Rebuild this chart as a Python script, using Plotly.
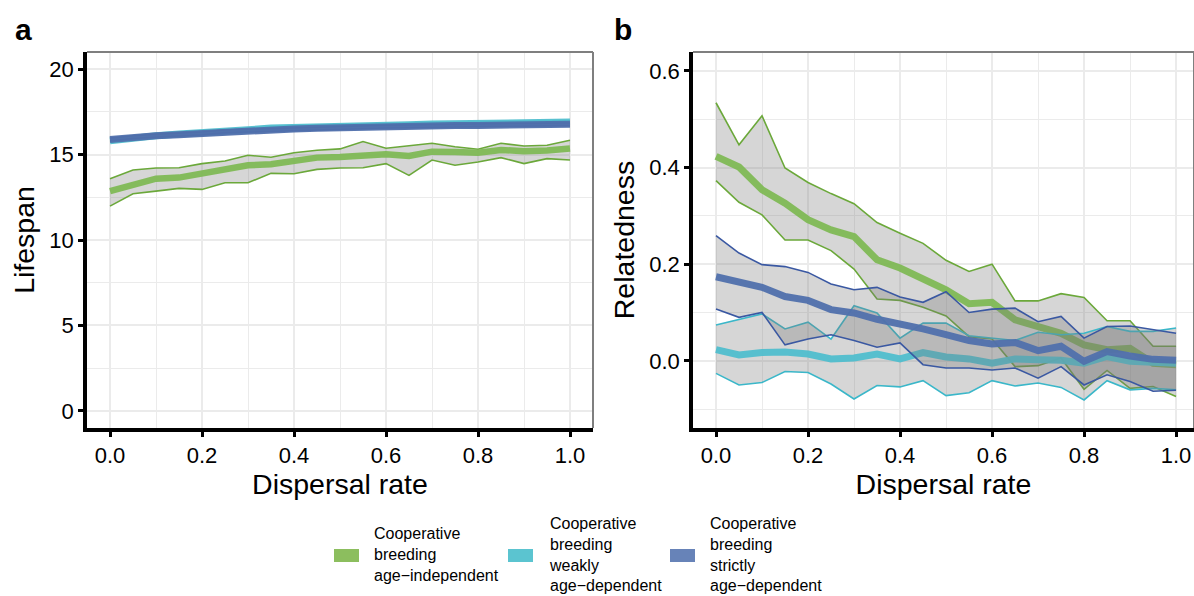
import plotly.graph_objects as go

# ---------------- data ----------------
dispersal = [0.0, 0.05, 0.1, 0.15, 0.2, 0.25, 0.3, 0.35, 0.4, 0.45, 0.5,
             0.55, 0.6, 0.65, 0.7, 0.75, 0.8, 0.85, 0.9, 0.95, 1.0]

groups = ["Cooperative<br>breeding<br>age\u2212independent",
          "Cooperative<br>breeding<br>weakly<br>age\u2212dependent",
          "Cooperative<br>breeding<br>strictly<br>age\u2212dependent"]

# Panel a: lifespan
life_indep_lo = [11.98, 12.71, 12.86, 13.02, 12.96, 13.35, 13.35, 13.90, 13.88, 14.13, 14.21,
                 14.23, 14.47, 13.78, 14.68, 14.37, 14.56, 14.82, 14.47, 14.76, 14.68]
life_indep_mean = [12.86, 13.26, 13.59, 13.65, 13.90, 14.17, 14.37, 14.43, 14.58, 14.82, 14.86,
                   14.96, 15.01, 14.92, 15.17, 15.15, 15.11, 15.27, 15.19, 15.23, 15.35]
life_indep_hi = [13.59, 14.10, 14.21, 14.23, 14.47, 14.62, 14.96, 14.84, 15.11, 15.25, 15.33,
                 15.76, 15.37, 15.50, 15.66, 15.46, 15.31, 15.66, 15.50, 15.54, 15.84]

life_weak_lo = [15.72, 15.92, 16.02, 16.12, 16.17, 16.27, 16.37, 16.47, 16.52, 16.54, 16.57,
                16.60, 16.62, 16.67, 16.70, 16.72, 16.74, 16.77, 16.80, 16.82, 16.82]
life_weak_mean = [15.80, 16.00, 16.10, 16.20, 16.25, 16.35, 16.45, 16.55, 16.60, 16.62, 16.65,
                  16.68, 16.70, 16.75, 16.78, 16.80, 16.82, 16.85, 16.88, 16.90, 16.90]
life_weak_hi = [15.88, 16.08, 16.18, 16.28, 16.33, 16.43, 16.53, 16.63, 16.68, 16.70, 16.73,
                16.76, 16.78, 16.83, 16.86, 16.88, 16.90, 16.93, 16.96, 16.98, 16.98]

life_strict_lo = [15.80, 15.94, 16.02, 16.08, 16.16, 16.28, 16.32, 16.37, 16.42, 16.46, 16.50,
                  16.52, 16.55, 16.57, 16.60, 16.62, 16.62, 16.65, 16.66, 16.68, 16.69]
life_strict_mean = [15.88, 16.02, 16.10, 16.16, 16.24, 16.36, 16.40, 16.45, 16.50, 16.54, 16.58,
                    16.60, 16.63, 16.65, 16.68, 16.70, 16.70, 16.73, 16.74, 16.76, 16.77]
life_strict_hi = [15.96, 16.10, 16.18, 16.24, 16.32, 16.44, 16.48, 16.53, 16.58, 16.62, 16.66,
                  16.68, 16.71, 16.73, 16.76, 16.78, 16.78, 16.81, 16.82, 16.84, 16.85]

# Panel b: relatedness
rel_indep_lo = [0.373, 0.328, 0.302, 0.250, 0.250, 0.228, 0.190, 0.128, 0.125, 0.111, 0.093,
                0.050, 0.045, -0.012, -0.010, 0.006, -0.059, -0.020, -0.057, -0.053, -0.074]
rel_indep_mean = [0.423, 0.401, 0.354, 0.326, 0.292, 0.271, 0.257, 0.209, 0.192, 0.171, 0.147,
                  0.118, 0.121, 0.085, 0.072, 0.057, 0.033, 0.023, 0.026, -0.005, -0.008]
rel_indep_hi = [0.534, 0.447, 0.507, 0.399, 0.369, 0.346, 0.325, 0.286, 0.264, 0.243, 0.208,
                0.185, 0.200, 0.124, 0.124, 0.139, 0.131, 0.083, 0.083, 0.030, 0.030]

rel_weak_lo = [-0.026, -0.050, -0.045, -0.022, -0.024, -0.048, -0.079, -0.051, -0.054, -0.041, -0.072,
               -0.066, -0.041, -0.052, -0.046, -0.055, -0.081, -0.041, -0.060, -0.057, -0.060]
rel_weak_mean = [0.023, 0.012, 0.017, 0.018, 0.014, 0.004, 0.006, 0.014, 0.004, 0.017, 0.008,
                 0.004, -0.005, 0.004, 0.002, 0.001, -0.005, 0.009, -0.001, -0.003, -0.005]
rel_weak_hi = [0.074, 0.086, 0.097, 0.066, 0.080, 0.045, 0.114, 0.099, 0.047, 0.078, 0.078,
               0.052, 0.047, 0.042, 0.059, 0.054, 0.057, 0.071, 0.061, 0.061, 0.068]

rel_strict_lo = [0.107, 0.090, 0.100, 0.033, 0.045, 0.054, 0.042, 0.028, 0.037, -0.008, -0.015,
                 -0.015, -0.019, -0.015, -0.036, -0.012, -0.050, -0.029, -0.043, -0.063, -0.061]
rel_strict_mean = [0.174, 0.164, 0.152, 0.133, 0.125, 0.106, 0.099, 0.086, 0.077, 0.066, 0.054,
                   0.042, 0.035, 0.038, 0.021, 0.030, -0.001, 0.019, 0.010, 0.003, 0.001]
rel_strict_hi = [0.259, 0.223, 0.199, 0.195, 0.183, 0.159, 0.147, 0.152, 0.132, 0.121, 0.143,
                 0.100, 0.107, 0.109, 0.081, 0.092, 0.047, 0.071, 0.072, 0.064, 0.057]

# ---------------- style ----------------
FONT = "Liberation Sans, Arial, Helvetica, sans-serif"
line_cols = ["#6BA83A", "#3BB7C9", "#3A58A2"]
mean_cols = ["rgba(128,185,85,0.95)", "rgba(80,190,205,0.95)", "rgba(80,112,172,0.95)"]
key_cols = ["#8CBE5E", "#5BC4D0", "#6783B8"]
RIBBON = "rgba(120,120,120,0.30)"

fig = go.Figure()


def add_group(xa, ya, lo, mean, hi, i, band=True, mean_w=6):
    if band:
        fig.add_trace(go.Scatter(x=dispersal, y=lo, xaxis=xa, yaxis=ya, mode="lines",
                                 line=dict(color=line_cols[i], width=1.6),
                                 showlegend=False, hoverinfo="skip"))
        fig.add_trace(go.Scatter(x=dispersal, y=hi, xaxis=xa, yaxis=ya, mode="lines",
                                 line=dict(color=line_cols[i], width=1.6),
                                 fill="tonexty", fillcolor=RIBBON,
                                 showlegend=False, hoverinfo="skip"))
    fig.add_trace(go.Scatter(x=dispersal, y=mean, xaxis=xa, yaxis=ya, mode="lines",
                             line=dict(color=mean_cols[i], width=mean_w),
                             showlegend=False))


add_group("x", "y", life_indep_lo, life_indep_mean, life_indep_hi, 0, mean_w=6.5)
add_group("x", "y", life_weak_lo, life_weak_mean, life_weak_hi, 1, mean_w=7)
add_group("x", "y", life_strict_lo, life_strict_mean, life_strict_hi, 2, mean_w=7)

add_group("x2", "y2", rel_indep_lo, rel_indep_mean, rel_indep_hi, 0, mean_w=7)
add_group("x2", "y2", rel_weak_lo, rel_weak_mean, rel_weak_hi, 1, mean_w=7)
add_group("x2", "y2", rel_strict_lo, rel_strict_mean, rel_strict_hi, 2, mean_w=7)

W, H = 1194, 596
ydom = [1 - 428 / H, 1 - 52 / H]

common_axis = dict(showline=True, linecolor="black", linewidth=3.5,
                   ticks="outside", ticklen=5, tickwidth=3, tickcolor="black",
                   tickfont=dict(family=FONT, size=22, color="black"),
                   showgrid=True, gridcolor="#EBEBEB", gridwidth=1.6,
                   zeroline=False, automargin=False)

TITLE_FONT = dict(family=FONT, size=28.5, color="black")

xa = dict(common_axis, range=[-0.05, 1.05], tick0=0, dtick=0.2, tickformat=".1f",
          minor=dict(dtick=0.1, showgrid=True, gridcolor="#EBEBEB", gridwidth=1.2),
          title=dict(text="Dispersal rate", font=TITLE_FONT, standoff=6))

fig.update_layout(
    width=W, height=H,
    margin=dict(l=0, r=0, t=0, b=0),
    paper_bgcolor="white", plot_bgcolor="white",
    showlegend=False,
    xaxis=dict(xa, domain=[87 / W, 593 / W], anchor="y"),
    yaxis=dict(common_axis, domain=ydom, anchor="x", range=[-1, 21], tick0=0, dtick=5,
               minor=dict(dtick=2.5, showgrid=True, gridcolor="#EBEBEB", gridwidth=1.2),
               title=dict(text="Lifespan", font=TITLE_FONT, standoff=7)),
    xaxis2=dict(xa, domain=[693 / W, 1.0], anchor="y2", range=[-0.05, 1.039]),
    yaxis2=dict(common_axis, domain=ydom, anchor="x2", range=[-0.139, 0.639], tick0=0, dtick=0.2,
                tickformat=".1f",
                minor=dict(dtick=0.1, showgrid=True, gridcolor="#EBEBEB", gridwidth=1.2),
                title=dict(text="Relatedness", font=TITLE_FONT, standoff=7)),
)

# panel borders (top / right) in grey
for xr, yr in [("x domain", "y domain"), ("x2 domain", "y2 domain")]:
    fig.add_shape(type="line", xref=xr, yref=yr, x0=0, x1=1, y0=1, y1=1,
                  line=dict(color="#7F7F7F", width=2), layer="above")
    fig.add_shape(type="line", xref=xr, yref=yr, x0=1, x1=1, y0=0, y1=1,
                  line=dict(color="#7F7F7F", width=2), layer="above")

# panel labels
fig.add_annotation(text="<b>a</b>", x=13 / W, y=1 - 30 / H, xref="paper", yref="paper",
                   xanchor="left", yanchor="middle", showarrow=False,
                   font=dict(family=FONT, size=30, color="black"))
fig.add_annotation(text="<b>b</b>", x=612 / W, y=1 - 30 / H, xref="paper", yref="paper",
                   xanchor="left", yanchor="middle", showarrow=False,
                   font=dict(family=FONT, size=30, color="black"))

# legend (bottom, horizontal)
key_x = [334, 508, 670]
text_x = [372, 547, 708]
for i in range(3):
    fig.add_shape(type="rect", xref="paper", yref="paper",
                  x0=key_x[i] / W, x1=(key_x[i] + 25) / W,
                  y0=1 - 562 / H, y1=1 - 549 / H,
                  fillcolor=key_cols[i], line=dict(width=0))
    fig.add_annotation(text=groups[i], x=text_x[i] / W, y=1 - 554 / H,
                       xref="paper", yref="paper", xanchor="left", yanchor="middle",
                       align="left", showarrow=False,
                       font=dict(family=FONT, size=16, color="black"))

fig.write_html("out.html")
